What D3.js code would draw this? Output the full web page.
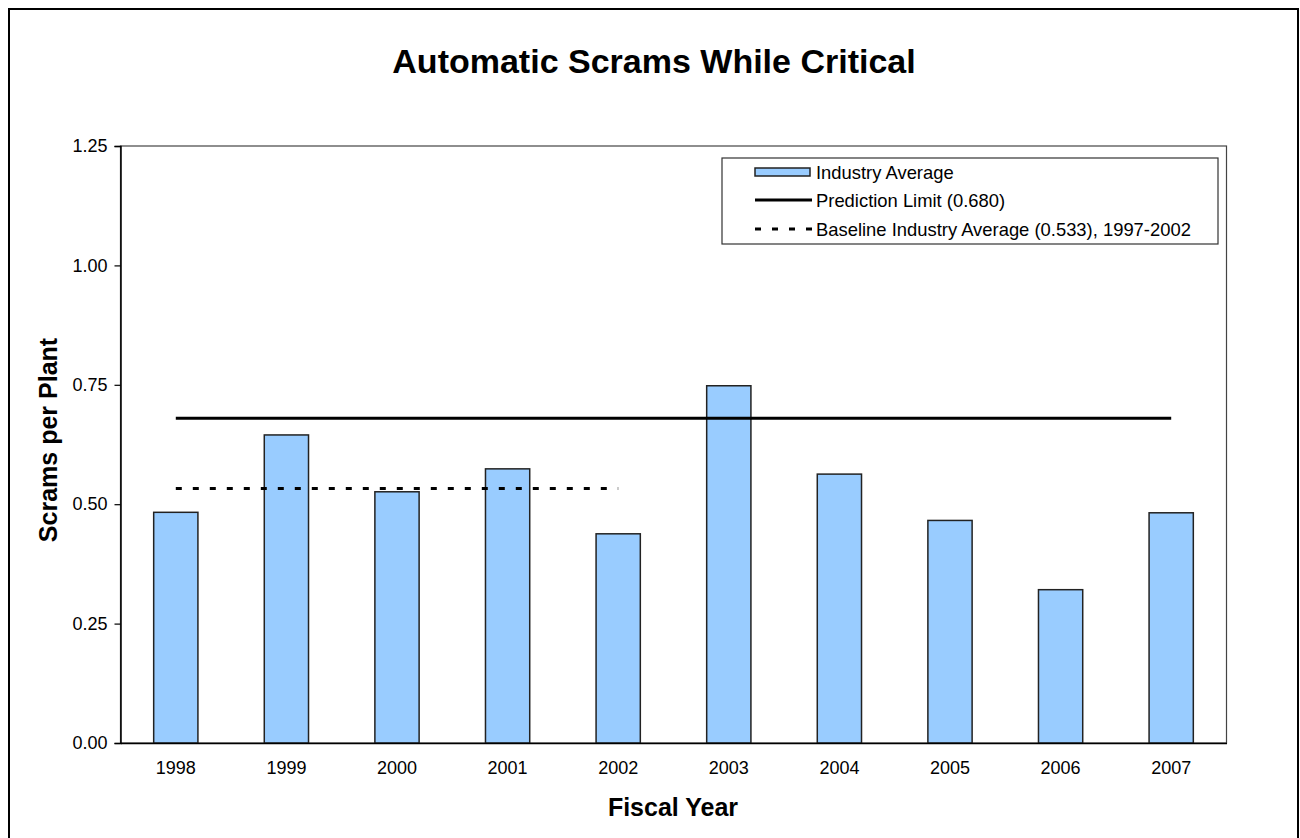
<!DOCTYPE html>
<html>
<head>
<meta charset="utf-8">
<script src="https://cdn.jsdelivr.net/npm/d3@7"></script>
<style>
  html, body { margin: 0; padding: 0; background: #fff; }
  svg { display: block; font-family: "Liberation Sans", Arial, sans-serif; }
</style>
</head>
<body>
<svg id="chart" width="1300" height="838"></svg>
<script>
const years = ["1998","1999","2000","2001","2002","2003","2004","2005","2006","2007"];
const industryAverage = [0.483, 0.645, 0.526, 0.574, 0.438, 0.748, 0.563, 0.466, 0.321, 0.482];
const predictionLimit = 0.680;
const baselineAverage = 0.533;
const baselineYears = ["1998", "2002"];
const predictionYears = ["1998", "2007"];
const yTicks = [0, 0.25, 0.5, 0.75, 1.0, 1.25];
const legendLabels = ["Industry Average", "Prediction Limit (0.680)", "Baseline Industry Average (0.533), 1997-2002"];

const svg = d3.select("#chart");
const m = { left: 120.5, right: 1226.5, top: 146, bottom: 743 };

// outer border
svg.append("rect").attr("x", 9).attr("y", 9).attr("width", 1289).attr("height", 860)
  .attr("fill", "#fff").attr("stroke", "#000").attr("stroke-width", 2);

const x = d3.scaleBand().domain(years).range([m.left, m.right]).paddingInner(0.6).paddingOuter(0.3);
const y = d3.scaleLinear().domain([0, 1.25]).range([m.bottom, m.top]);

// plot area border
svg.append("rect").attr("x", m.left).attr("y", m.top)
  .attr("width", m.right - m.left).attr("height", m.bottom - m.top)
  .attr("fill", "none").attr("stroke", "#444").attr("stroke-width", 1.2);

// bars
svg.append("g").selectAll("rect").data(industryAverage).join("rect")
  .attr("x", (d, i) => x(years[i]))
  .attr("y", d => y(d))
  .attr("width", x.bandwidth())
  .attr("height", d => y(0) - y(d))
  .attr("fill", "#99CCFF")
  .attr("stroke", "#222").attr("stroke-width", 1.5);

// prediction limit
const cx = yr => x(yr) + x.bandwidth() / 2;
svg.append("line")
  .attr("x1", cx(predictionYears[0])).attr("x2", cx(predictionYears[1]))
  .attr("y1", y(predictionLimit)).attr("y2", y(predictionLimit))
  .attr("stroke", "#000").attr("stroke-width", 3);

// baseline
svg.append("line")
  .attr("x1", cx(baselineYears[0])).attr("x2", cx(baselineYears[1]))
  .attr("y1", y(baselineAverage)).attr("y2", y(baselineAverage))
  .attr("stroke", "#000").attr("stroke-width", 3).attr("stroke-dasharray", "6,11");

// y axis
const yAxis = d3.axisLeft(y).tickValues(yTicks).tickFormat(d3.format(".2f")).tickSize(6).tickPadding(7);
const gy = svg.append("g").attr("transform", `translate(${m.left},0)`).call(yAxis);
gy.select(".domain").attr("stroke", "#000").attr("stroke-width", 1.5);
gy.selectAll(".tick line").attr("stroke", "#000").attr("stroke-width", 1.2);
gy.selectAll(".tick text").attr("font-size", 18).attr("fill", "#000")
  .attr("font-family", "Liberation Sans, Arial, sans-serif");

// x axis
const xAxis = d3.axisBottom(x).tickSize(0).tickPadding(18);
const gx = svg.append("g").attr("transform", `translate(0,${m.bottom})`).call(xAxis);
gx.select(".domain").attr("stroke", "#000").attr("stroke-width", 1.5);
gx.selectAll(".tick text").attr("font-size", 18).attr("fill", "#000")
  .attr("font-family", "Liberation Sans, Arial, sans-serif");

// title
svg.append("text").attr("x", 654).attr("y", 73).attr("text-anchor", "middle")
  .attr("font-size", 34).attr("font-weight", "bold").text("Automatic Scrams While Critical");

// axis titles
svg.append("text").attr("x", 673).attr("y", 816).attr("text-anchor", "middle")
  .attr("font-size", 25).attr("font-weight", "bold").text("Fiscal Year");
svg.append("text").attr("transform", "translate(57,440) rotate(-90)").attr("text-anchor", "middle")
  .attr("font-size", 25).attr("font-weight", "bold").text("Scrams per Plant");

// legend
const lg = svg.append("g");
lg.append("rect").attr("x", 722).attr("y", 158).attr("width", 496).attr("height", 86)
  .attr("fill", "#fff").attr("stroke", "#333").attr("stroke-width", 1.2);
const rowsY = [172, 200, 229];
lg.append("rect").attr("x", 755).attr("y", rowsY[0] - 4).attr("width", 55).attr("height", 8)
  .attr("fill", "#99CCFF").attr("stroke", "#222").attr("stroke-width", 1.5);
lg.append("line").attr("x1", 755).attr("x2", 812).attr("y1", rowsY[1]).attr("y2", rowsY[1])
  .attr("stroke", "#000").attr("stroke-width", 3);
lg.append("line").attr("x1", 755).attr("x2", 813).attr("y1", rowsY[2]).attr("y2", rowsY[2])
  .attr("stroke", "#000").attr("stroke-width", 3).attr("stroke-dasharray", "6,11");
lg.selectAll("text.lbl").data(legendLabels).join("text").attr("class", "lbl")
  .attr("x", 816).attr("y", (d, i) => rowsY[i] + 6.5)
  .attr("font-size", 18.4).attr("fill", "#000").text(d => d);
</script>
</body>
</html>
